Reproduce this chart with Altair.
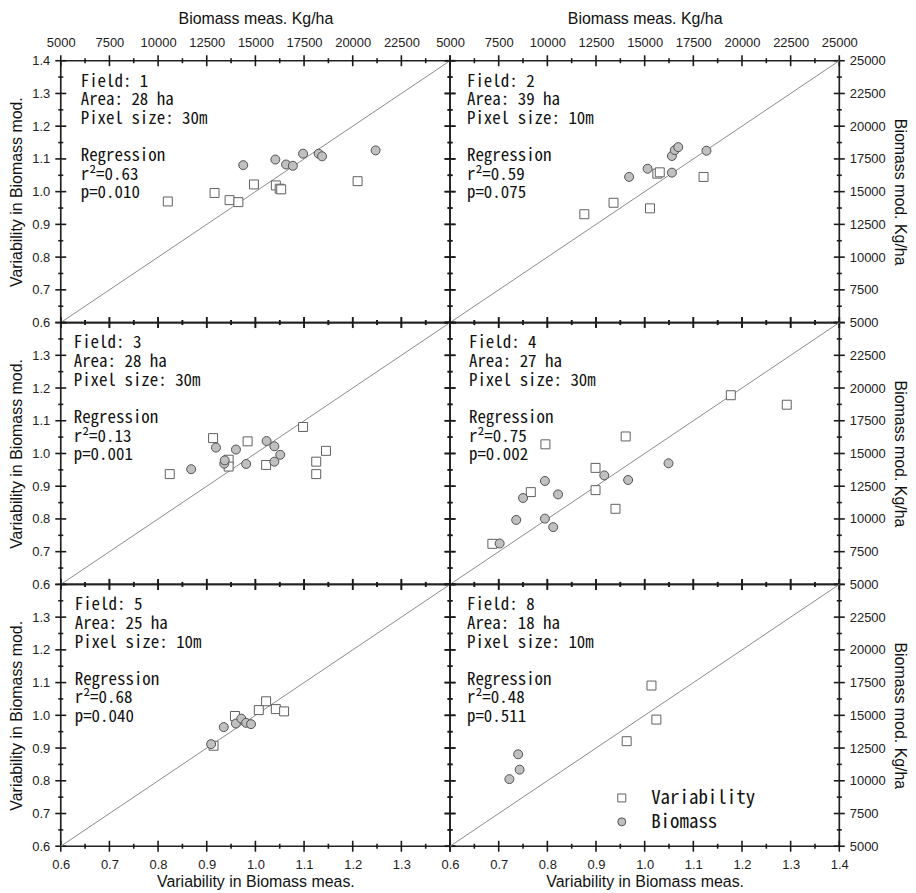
import altair as alt

# ---------------- data ----------------
var_ticks = [0.6, 0.7, 0.8, 0.9, 1.0, 1.1, 1.2, 1.3, 1.4]
var_minor = [0.65, 0.75, 0.85, 0.95, 1.05, 1.15, 1.25, 1.35]
bio_ticks = [5000, 7500, 10000, 12500, 15000, 17500, 20000, 22500, 25000]
bio_minor = [6250, 8750, 11250, 13750, 16250, 18750, 21250, 23750]
diag_var = [0.6, 1.4]

fields = ["1", "2", "3", "4", "5", "8"]
areas = ["28", "39", "28", "27", "25", "18"]
pixels = ["30m", "10m", "30m", "30m", "10m", "10m"]
r2_vals = ["0.63", "0.59", "0.13", "0.75", "0.68", "0.48"]
p_vals = ["0.010", "0.075", "0.001", "0.002", "0.040", "0.511"]
series_names = ["Variability", "Biomass"]

# Variability (squares): measured (x) vs modelled (y)
F1_var_x = [0.820, 0.916, 0.947, 0.965, 0.997, 1.042, 1.050, 1.053, 1.210]
F1_var_y = [0.970, 0.996, 0.974, 0.968, 1.022, 1.019, 1.009, 1.007, 1.032]
F2_var_x = [0.876, 0.936, 1.011, 1.026, 1.031, 1.121]
F2_var_y = [0.931, 0.966, 0.949, 1.055, 1.059, 1.045]
F3_var_x = [0.824, 0.913, 0.945, 0.945, 0.984, 1.022, 1.098, 1.125, 1.125, 1.145]
F3_var_y = [0.937, 1.047, 0.981, 0.960, 1.037, 0.965, 1.081, 0.975, 0.937, 1.008]
F4_var_x = [0.687, 0.766, 0.796, 0.899, 0.899, 0.940, 0.961, 1.177, 1.292]
F4_var_y = [0.724, 0.882, 1.028, 0.956, 0.888, 0.831, 1.052, 1.178, 1.149]
F5_var_x = [0.914, 0.958, 1.007, 1.022, 1.042, 1.059]
F5_var_y = [0.907, 0.998, 1.016, 1.043, 1.019, 1.012]
F6_var_x = [0.963, 1.014, 1.024]
F6_var_y = [0.921, 1.091, 0.987]

# Biomass (circles): measured (x, kg/ha) vs modelled (y, kg/ha)
F1_bio_x = [14375, 16025, 16575, 16925, 17450, 18250, 18425, 21175]
F1_bio_y = [17025, 17450, 17075, 16975, 17900, 17900, 17700, 18150]
F2_bio_x = [14200, 15150, 16400, 16550, 16725, 16400, 18175]
F2_bio_y = [16125, 16750, 17725, 18175, 18400, 16450, 18125]
F3_bio_x = [11700, 12975, 13400, 13425, 14000, 14525, 15575, 15975, 16275, 15975]
F3_bio_y = [13800, 15450, 14225, 14475, 15300, 14200, 15950, 15550, 14900, 14375]
F4_bio_x = [7550, 8400, 8750, 9875, 9875, 10300, 10550, 12925, 14150, 16225]
F4_bio_y = [8125, 9925, 11600, 12900, 10025, 9375, 11875, 13325, 12975, 14250]
F5_bio_x = [12725, 13375, 14000, 14275, 14525, 14775]
F5_bio_y = [12800, 14100, 14375, 14750, 14425, 14325]
F6_bio_x = [8050, 8500, 8575]
F6_bio_y = [10125, 12025, 10850]

VAR_X = [F1_var_x, F2_var_x, F3_var_x, F4_var_x, F5_var_x, F6_var_x]
VAR_Y = [F1_var_y, F2_var_y, F3_var_y, F4_var_y, F5_var_y, F6_var_y]
BIO_X = [F1_bio_x, F2_bio_x, F3_bio_x, F4_bio_x, F5_bio_x, F6_bio_x]
BIO_Y = [F1_bio_y, F2_bio_y, F3_bio_y, F4_bio_y, F5_bio_y, F6_bio_y]

# ---------------- styling ----------------
MONO = "Noto Sans Mono CJK JP, Noto Sans CJK JP, monospace"
SANS = "Liberation Sans, Arial, sans-serif"
PW, PH = 391, 263
TEXT_DX = [20, 17, 13, 19, 14, 17]
INK = "#222222"
TICK_INK = "#1a1a1a"
LINE_H = 18.7


def label_axis(orient, values, hide_expr, title, fmt, lab_pad, title_pad):
    kw = dict(orient=orient, values=values, ticks=False, tickSize=0,
              labels=True, labelPadding=lab_pad, format=fmt, title=title,
              titlePadding=title_pad)
    if hide_expr:
        kw["labelExpr"] = hide_expr
    return alt.Axis(**kw)


def tick_layer(values, domain, side, size):
    sc = alt.Scale(domain=domain, nice=False, zero=False)
    data = alt.Data(values=[{"v": v} for v in values])
    if side in ("bottom", "top"):
        return alt.Chart(data).mark_tick(
            orient="vertical", size=size, thickness=1.6, color=TICK_INK, opacity=1
        ).encode(x=alt.X("v:Q", scale=sc, axis=None),
                 y=alt.value(PH if side == "bottom" else 0))
    return alt.Chart(data).mark_tick(
        orient="horizontal", size=size, thickness=1.6, color=TICK_INK, opacity=1
    ).encode(y=alt.Y("v:Q", scale=sc, axis=None),
             x=alt.value(0 if side == "left" else PW))


def panel(k, row, col):
    left, right = col == 0, col == 1
    top, bottom = row == 0, row == 2
    var_dom = [0.6, 1.4]
    bio_dom = [5000, 25000]
    var_scale = alt.Scale(domain=var_dom, nice=False, zero=False)
    bio_scale = alt.Scale(domain=bio_dom, nice=False, zero=False)
    shape_scale = alt.Scale(domain=series_names, range=["square", "circle"])
    fill_scale = alt.Scale(domain=series_names, range=["#ffffff", "#c0c0c0"])
    stroke_scale = alt.Scale(domain=series_names, range=["#606060", "#505050"])

    if k == 5:
        leg = alt.Legend(title=None, orient="none", legendX=163, legendY=205,
                         labelFont=MONO, labelFontSize=19, labelColor="#111",
                         labelFontWeight=300,
                         symbolSize=64, symbolStrokeWidth=1,
                         labelOffset=20, rowPadding=4)
    else:
        leg = None

    x_bottom = label_axis("bottom", var_ticks,
                          "datum.value > 1.35 ? '' : datum.label" if left else None,
                          "Variability in Biomass meas.", ".1f", 12, 2) if bottom else None
    y_left = label_axis("left", var_ticks,
                        None if top else "datum.value > 1.35 ? '' : datum.label",
                        "Variability in Biomass mod.", ".1f", 11, 7) if left else None
    x_top = label_axis("top", bio_ticks,
                       "datum.value > 24000 ? '' : datum.label" if left else None,
                       "Biomass meas. Kg/ha", "d", 11, 10) if top else None
    y_right = label_axis("right", bio_ticks,
                         None if top else "datum.value > 24000 ? '' : datum.label",
                         "Biomass mod. Kg/ha", "d", 10, 6) if right else None

    ticks = []
    for side in ("bottom", "top", "left", "right"):
        if side in ("bottom", "left"):
            ticks.append(tick_layer(var_ticks, var_dom, side, 11))
            ticks.append(tick_layer(var_minor, var_dom, side, 5))
        else:
            ticks.append(tick_layer(bio_ticks, bio_dom, side, 11))
            ticks.append(tick_layer(bio_minor, bio_dom, side, 5))

    diag = alt.Chart(alt.Data(values=[{"x": a, "y": a} for a in diag_var])).mark_line(
        color="#8a8a8a", strokeWidth=1
    ).encode(
        x=alt.X("x:Q", scale=var_scale, axis=None),
        y=alt.Y("y:Q", scale=var_scale, axis=None),
    )

    sq_vals = [{"x": a, "y": b, "series": "Variability"} for a, b in zip(VAR_X[k], VAR_Y[k])]
    ci_vals = [{"x": a, "y": b, "series": "Biomass"} for a, b in zip(BIO_X[k], BIO_Y[k])]

    def pts(vals, scale, xaxis, yaxis):
        return alt.Chart(alt.Data(values=vals)).mark_point(
            filled=True, size=81, strokeWidth=1, opacity=1
        ).encode(
            x=alt.X("x:Q", scale=scale, axis=xaxis),
            y=alt.Y("y:Q", scale=scale, axis=yaxis),
            shape=alt.Shape("series:N", scale=shape_scale, legend=leg),
            fill=alt.Fill("series:N", scale=fill_scale, legend=leg),
            stroke=alt.Stroke("series:N", scale=stroke_scale, legend=leg),
        )

    squares = pts(sq_vals, var_scale, x_bottom, y_left)
    circles = pts(ci_vals, bio_scale, x_top, y_right)

    info_lines = [f"Field: {fields[k]}", f"Area: {areas[k]} ha", f"Pixel size: {pixels[k]}"]
    reg_lines = ["Regression", f"r\u00b2={r2_vals[k]}", f"p={p_vals[k]}"]

    def block(lines, y):
        return alt.Chart(alt.Data(values=[{"lines": lines}])).mark_text(
            align="left", baseline="alphabetic", font=MONO, fontSize=17, fontWeight=300,
            lineHeight=LINE_H, color="#111"
        ).encode(x=alt.value(TEXT_DX[k]), y=alt.value(y), text="lines:N")

    txt1 = block(info_lines, 26)
    txt2 = block(reg_lines, 26 + 4 * LINE_H)

    return alt.layer(*ticks, diag, squares, circles, txt1, txt2).resolve_scale(
        x="independent", y="independent"
    ).resolve_axis(x="independent", y="independent").properties(width=PW, height=PH)


panels = []
for k in range(6):
    panels.append(panel(k, k // 2, k % 2))

chart = alt.concat(*panels, columns=2, spacing=0, bounds="flush").resolve_scale(
    shape="independent", fill="independent", stroke="independent"
).resolve_legend(shape="independent", fill="independent", stroke="independent").properties(
    padding=0
).configure_view(stroke=INK, strokeWidth=1.7).configure_axis(
    domain=False, grid=False, labelFont=SANS, labelFontSize=13, labelColor="#222",
    titleFont=SANS, titleFontSize=16, titleFontWeight="normal", titleColor="#111",
    labelFlush=False, labelOverlap=False,
)

chart.save("out.html", embed_options={"renderer": "svg", "actions": False})
